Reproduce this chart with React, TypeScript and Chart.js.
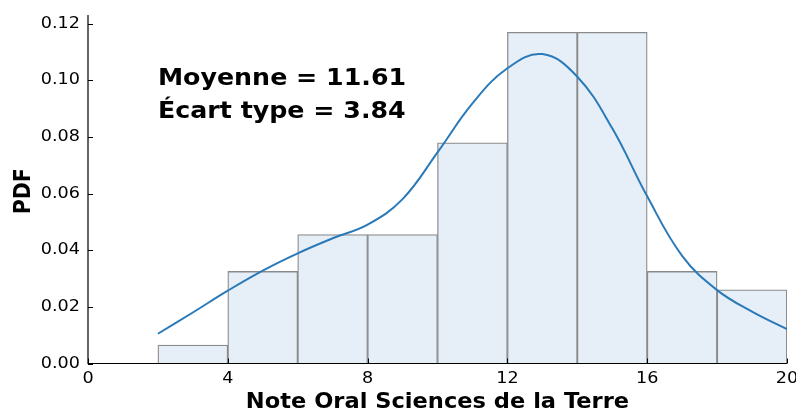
import React, { useEffect, useRef } from "react";
import { Chart, registerables } from "chart.js";

Chart.register(...registerables);

const binCenters = [3, 5, 7, 9, 11, 13, 15, 17, 19];
const density = [0.0065, 0.0325, 0.0455, 0.0455, 0.0779, 0.1169, 0.1169, 0.0325, 0.026];
const kdeX = [2, 3, 4, 5, 6, 7, 8, 9, 10, 11, 12, 13, 14, 15, 16, 17, 18, 19, 20];
const kdeY = [0.0105, 0.018, 0.0257, 0.0328, 0.0389, 0.0442, 0.049, 0.058, 0.0745, 0.0918, 0.1042, 0.1092, 0.1012, 0.083, 0.059, 0.038, 0.0259, 0.0183, 0.0121];
const xTicks = [0, 4, 8, 12, 16, 20];
const yTicks = [0, 0.02, 0.04, 0.06, 0.08, 0.1, 0.12];
const statLines = ["Moyenne = 11.61", "Écart type = 3.84"];
const xTitle = "Note Oral Sciences de la Terre";
const yTitle = "PDF";

const FONT = "'DejaVu Sans', sans-serif";
const SX = 1.1;

function drawText(ctx: CanvasRenderingContext2D, s: string, x: number, y: number, font: string, align: CanvasTextAlign, baseline: CanvasTextBaseline, rotate = false) {
  ctx.save();
  ctx.translate(x, y);
  if (rotate) {
    ctx.rotate(-Math.PI / 2);
    ctx.scale(1, SX);
  } else {
    ctx.scale(SX, 1);
  }
  ctx.font = font;
  ctx.textAlign = align;
  ctx.textBaseline = baseline;
  ctx.fillStyle = "#000";
  ctx.fillText(s, 0, 0);
  ctx.restore();
}

const decorPlugin = {
  id: "decor",
  afterDraw(chart: any) {
    const ctx = chart.ctx as CanvasRenderingContext2D;
    const xs = chart.scales.x;
    const ys = chart.scales.y;
    const area = chart.chartArea;
    ctx.save();
    ctx.strokeStyle = "#000";
    ctx.lineWidth = 1.2;
    ctx.beginPath();
    ctx.moveTo(area.left, area.top);
    ctx.lineTo(area.left, area.bottom);
    ctx.lineTo(area.right, area.bottom);
    ctx.stroke();
    ctx.lineWidth = 1;
    ctx.beginPath();
    for (const v of xTicks) {
      const px = Math.round(xs.getPixelForValue(v)) + 0.5;
      ctx.moveTo(px, area.bottom);
      ctx.lineTo(px, area.bottom - 5);
    }
    for (const v of yTicks) {
      const py = Math.round(ys.getPixelForValue(v)) + 0.5;
      ctx.moveTo(area.left, py);
      ctx.lineTo(area.left + 5, py);
    }
    ctx.stroke();
    ctx.restore();

    const tickFont = `16px ${FONT}`;
    for (const v of xTicks) {
      drawText(ctx, String(v), xs.getPixelForValue(v), area.bottom + 19.5, tickFont, "center", "alphabetic");
    }
    for (const v of yTicks) {
      drawText(ctx, v.toFixed(2), area.left - 8, ys.getPixelForValue(v), tickFont, "right", "middle");
    }
    const titleFont = `bold 20.5px ${FONT}`;
    drawText(ctx, xTitle, (area.left + area.right) / 2, 408, titleFont, "center", "alphabetic");
    drawText(ctx, yTitle, 30, (area.top + area.bottom) / 2 + 2, titleFont, "center", "alphabetic", true);

    const statFont = `bold 23px ${FONT}`;
    const tx = area.left + 0.1 * (area.right - area.left);
    drawText(ctx, statLines[0], tx, 85, statFont, "left", "alphabetic");
    drawText(ctx, statLines[1], tx, 118, statFont, "left", "alphabetic");
  },
};

export default function App() {
  const ref = useRef<HTMLCanvasElement | null>(null);
  useEffect(() => {
    if (!ref.current) return;
    const chart = new Chart(ref.current, {
      type: "bar",
      data: {
        datasets: [
          {
            type: "line",
            data: kdeX.map((x, i) => ({ x, y: kdeY[i] })),
            borderColor: "#2a7ab9",
            borderWidth: 2,
            pointRadius: 0,
            tension: 0.4,
            fill: false,
            order: 0,
          } as any,
          {
            type: "bar",
            data: binCenters.map((x, i) => ({ x, y: density[i] })),
            backgroundColor: "#e6eff7",
            borderColor: "#8a8a8a",
            borderWidth: 1.3,
            barPercentage: 1,
            categoryPercentage: 1,
            order: 1,
          } as any,
        ],
      },
      options: {
        animation: false,
        responsive: false,
        layout: { padding: { top: 15, right: 9, left: 88, bottom: 46.5 } },
        plugins: { legend: { display: false }, tooltip: { enabled: false } },
        scales: {
          x: {
            type: "linear",
            min: 0,
            max: 20,
            offset: false,
            grid: { display: false, drawTicks: false },
            border: { display: false },
            ticks: { display: false },
            afterFit: (s: any) => {
              s.height = 0;
            },
          },
          y: {
            type: "linear",
            min: 0,
            max: 0.123,
            grid: { display: false, drawTicks: false },
            border: { display: false },
            ticks: { display: false },
            afterFit: (s: any) => {
              s.width = 0;
            },
          },
        },
      } as any,
      plugins: [decorPlugin],
    });
    return () => chart.destroy();
  }, []);
  return (
    <div style={{ position: "fixed", left: 0, top: 0, width: 796, height: 410, background: "#fff" }}>
      <canvas ref={ref} width={796} height={410} style={{ width: 796, height: 410, display: "block" }} />
    </div>
  );
}
